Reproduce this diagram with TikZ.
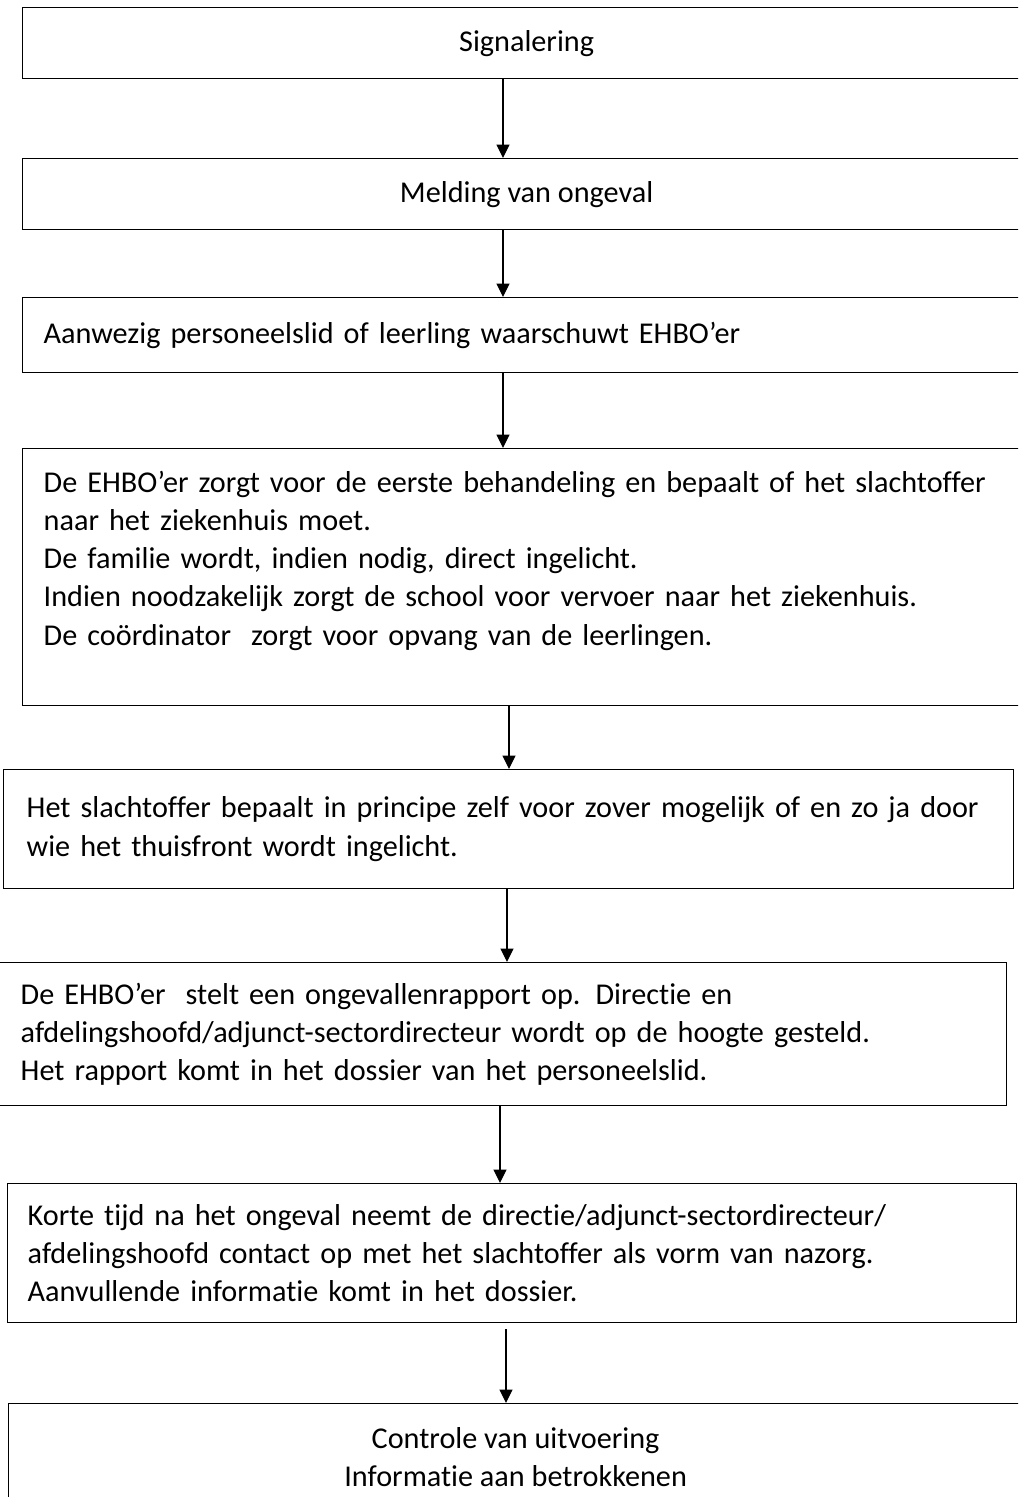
\documentclass[tikz,border=0pt]{standalone}
\usepackage{fontspec}
\setmainfont{Carlito}[Ligatures=NoCommon]
\usetikzlibrary{arrows.meta}

\tikzset{
  box/.style={draw, line width=0.8pt, anchor=north west, inner ysep=0pt,
    font=\fontsize{17.2}{21.8}\selectfont},
  arr/.style={line width=0.7pt, -{Triangle[width=0.26cm,length=0.27cm]}}
}

\begin{document}
\begin{tikzpicture}[x=0.02cm, y=-0.02cm]
    \useasboundingbox (0,0) rectangle (1018,1497);
    \clip (0,0) rectangle (1018,1497);

    % Steps of the procedure
    \node[box, minimum width=20.16cm, minimum height=1.42cm, align=center] (sign) at (22,7) {Signalering};
    \node[box, minimum width=20.16cm, minimum height=1.42cm, align=center] (meld) at (22,158) {Melding van ongeval};
    \node[box, minimum height=1.5cm, inner xsep=0.42cm, text width=19.32cm, align=left] (waar) at (22,297)
        {Aanwezig personeelslid of leerling waarschuwt EHBO’er};
    \node[box, minimum height=5.14cm, inner xsep=0.42cm, text width=19.32cm, align=left] (ehbo) at (22,448)
        {De EHBO’er zorgt voor de eerste behandeling en bepaalt of het slachtoffer\\
         naar het ziekenhuis moet.\\
         De familie wordt, indien nodig, direct ingelicht.\\
         Indien noodzakelijk zorgt de school voor vervoer naar het ziekenhuis.\\
         De coördinator\ \ zorgt voor opvang van de leerlingen.\\ \mbox{}};
    \node[box, minimum height=2.38cm, inner xsep=0.46cm, text width=19.28cm, align=left] (slacht) at (3,769)
        {Het slachtoffer bepaalt in principe zelf voor zover mogelijk of en zo ja door\\
         wie het thuisfront wordt ingelicht.};
    \node[box, minimum height=2.86cm, inner xsep=0.46cm, text width=19.26cm, align=left] (rapport) at (-3,962)
        {De EHBO’er\ \ stelt een ongevallenrapport op. Directie en\\
         afdelingshoofd/adjunct-sectordirecteur wordt op de hoogte gesteld.\\
         Het rapport komt in het dossier van het personeelslid.};
    \node[box, minimum height=2.78cm, inner xsep=0.4cm, text width=19.38cm, align=left] (nazorg) at (7,1183)
        {Korte tijd na het ongeval neemt de directie/adjunct-sectordirecteur/\\
         afdelingshoofd contact op met het slachtoffer als vorm van nazorg.\\
         Aanvullende informatie komt in het dossier.};
    \node[box, minimum width=20.28cm, minimum height=2.14cm, align=center] (contr) at (8,1403)
        {Controle van uitvoering\\Informatie aan betrokkenen};

    % Arrows
    \coordinate (x1) at (503,0);
    \coordinate (x2) at (509,0);
    \coordinate (x3) at (507,0);
    \coordinate (x4) at (500,0);
    \coordinate (x5) at (506,0);
    \draw[arr] (sign.south -| x1) -- (meld.north -| x1);
    \draw[arr] (meld.south -| x1) -- (waar.north -| x1);
    \draw[arr] (waar.south -| x1) -- (ehbo.north -| x1);
    \draw[arr] (ehbo.south -| x2) -- (slacht.north -| x2);
    \draw[arr] (slacht.south -| x3) -- (rapport.north -| x3);
    \draw[arr] (rapport.south -| x4) -- (nazorg.north -| x4);
    \draw[arr] ([yshift=-0.12cm]nazorg.south -| x5) -- (contr.north -| x5);
\end{tikzpicture}
\end{document}
